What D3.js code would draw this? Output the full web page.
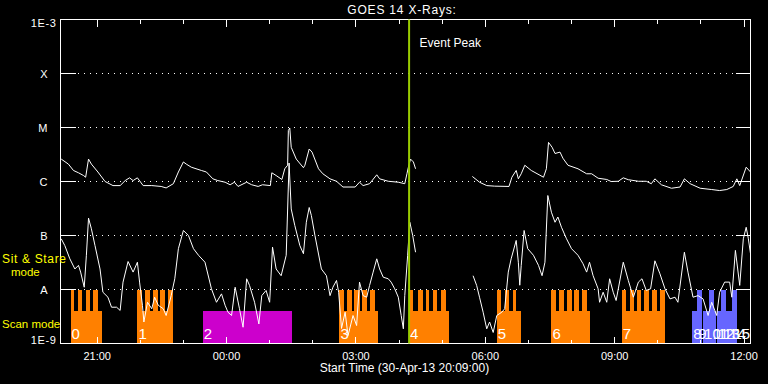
<!DOCTYPE html>
<html><head><meta charset="utf-8">
<script src="https://cdn.jsdelivr.net/npm/d3@7"></script>
<style>
html,body{margin:0;padding:0;background:#000;}
text{font-family:"Liberation Sans",Arial,sans-serif;}
</style>
</head><body>
<svg id="chart" width="768" height="384"></svg>
<script>
// ---------------- data ----------------
const titleText = "GOES 14 X-Rays:";
const xTitle = "Start Time (30-Apr-13 20:09:00)";
const rangeStart = "20:09";
const rangeEnd = "12:09";
const yTickValues = [1e-9, 1e-8, 1e-7, 1e-6, 1e-5, 1e-4, 1e-3];
const yTickLabels = ["1E-9", "A", "B", "C", "M", "X", "1E-3"];
const xTickLabels = ["21:00", "00:00", "03:00", "06:00", "09:00", "12:00"];
const eventPeakTime = "04:14";
const eventPeakLabel = "Event Peak";
const modeLabels = ["Sit & Stare", "mode", "Scan mode"];

// GOES long channel (1-8 A), W/m^2
const longFlux = [
["20:10",2.6e-6],["20:20",2.1e-6],["20:27",1.6e-6],["20:34",1.45e-6],["20:41",1.29e-6],["20:44",1.2e-6],
["20:48",2.6e-6],["20:52",2.1e-6],["21:01",1.5e-6],["21:11",1.0e-6],["21:22",8.4e-7],["21:32",8.4e-7],
["21:39",1.04e-6],["21:45",1.17e-6],["21:50",1.04e-6],["21:56",1.17e-6],["22:04",8.4e-7],["22:16",8.4e-7],
["22:29",8.1e-7],["22:36",7.6e-7],["22:46",9.1e-7],["22:53",1.5e-6],["23:00",2.3e-6],["23:04",2.1e-6],
["23:11",1.84e-6],["23:25",1.6e-6],["23:32",1.5e-6],["23:41",1.12e-6],["23:48",1.04e-6],["23:58",9.7e-7],
["00:05",8.7e-7],["00:11",9.7e-7],["00:16",8.1e-7],["00:28",9.7e-7],["00:35",8.7e-7],["00:44",8.1e-7],
["00:50",8.7e-7],["01:01",8.4e-7],["01:03",1.45e-6],["01:09",1.29e-6],["01:17",1.09e-6],["01:21",1.72e-6],
["01:25",2.0e-6],["01:26",8.8e-6],["01:28",9.8e-6],["01:30",4.3e-6],["01:37",2.6e-6],["01:47",1.8e-6],
["01:49",2.0e-6],["01:55",4.0e-6],["01:59",3.5e-6],["02:08",1.72e-6],["02:14",1.39e-6],["02:24",1.12e-6],
["02:33",1.01e-6],["02:42",7.9e-7],["02:59",7.9e-7],["03:05",9.7e-7],["03:10",8.4e-7],["03:19",9.1e-7],
["03:29",1.33e-6],["03:33",1.12e-6],["03:45",1.01e-6],["03:59",9.7e-7],["04:08",9.1e-7],["04:11",1.39e-6],
["04:13",1.84e-6],["04:16",2.6e-6],["04:20",2.3e-6],["04:23",1.72e-6],["04:24",null],
["05:42",1.24e-6],["05:52",9.7e-7],["06:02",8.4e-7],["06:13",8.2e-7],["06:33",8.1e-7],["06:37",1.2e-6],
["06:43",1.6e-6],["06:46",1.12e-6],["06:50",1.39e-6],["06:55",2.0e-6],["07:04",1.6e-6],["07:21",1.2e-6],
["07:25",1.72e-6],["07:28",5.3e-6],["07:33",4.3e-6],["07:37",3.3e-6],["07:44",3.5e-6],["07:48",2.7e-6],
["07:55",2.0e-6],["08:09",1.72e-6],["08:21",1.39e-6],["08:28",1.39e-6],["08:37",1.15e-6],["08:49",1.09e-6],
["08:55",1.0e-6],["09:05",1.01e-6],["09:12",1.17e-6],["09:19",1.08e-6],["09:33",1.01e-6],["09:44",1.01e-6],
["09:51",9.1e-7],["09:56",1.12e-6],["10:05",8.7e-7],["10:19",7.5e-7],["10:31",7.9e-7],["10:37",1.12e-6],
["10:45",9.1e-7],["10:59",7.5e-7],["11:15",7.1e-7],["11:26",6.8e-7],["11:36",7.1e-7],["11:45",8.1e-7],
["11:50",1.12e-6],["11:54",8.4e-7],["12:03",1.84e-6],["12:09",1.5e-6]
];

// GOES short channel (0.5-4 A), W/m^2
const shortFlux = [
["20:10",8.7e-8],["20:15",6.5e-8],["20:22",3.7e-8],["20:29",2.4e-8],["20:34",2.8e-8],["20:37",2.1e-8],
["20:42",1.1e-8],["20:45",4.3e-8],["20:48",2.1e-7],["20:52",1.33e-7],["20:57",6.5e-8],["21:04",2.4e-8],
["21:08",8.9e-9],["21:15",7.2e-9],["21:20",4.7e-9],["21:27",4.7e-9],["21:32",4.1e-9],["21:36",1.37e-8],
["21:43",3.3e-8],["21:50",2.1e-8],["21:56",3.2e-8],["21:59",1.37e-8],["22:03",5.1e-9],["22:05",2.5e-9],
["22:10",5.8e-9],["22:16",4.4e-9],["22:20",7.2e-9],["22:25",5.1e-9],["22:32",4.4e-9],["22:36",3.3e-9],
["22:43",7.7e-9],["22:48",1.58e-8],["22:53",5.7e-8],["23:00",1.24e-7],["23:07",1.0e-7],["23:14",5.7e-8],
["23:21",4.3e-8],["23:30",3.2e-8],["23:39",1.03e-8],["23:46",5.8e-9],["23:53",8.3e-9],["23:58",5.1e-9],
["00:02",3.8e-9],["00:07",3.3e-9],["00:12",1.1e-8],["00:18",4.4e-9],["00:23",2.0e-9],["00:28",1.58e-8],
["00:32",1.19e-8],["00:39",5.8e-9],["00:45",2.3e-9],["00:49",7.7e-9],["00:55",9.6e-9],["01:00",5.8e-9],
["01:04",6.1e-8],["01:09",2.4e-8],["01:16",1.8e-8],["01:23",4.3e-8],["01:27",2.2e-6],["01:30",3.1e-7],
["01:35",1.53e-7],["01:42",6.5e-8],["01:47",4.6e-8],["01:51",1.76e-7],["01:55",3.3e-7],["01:58",2.35e-7],
["02:03",1.0e-7],["02:12",2.4e-8],["02:19",1.8e-8],["02:24",7.7e-9],["02:28",1.1e-8],["02:33",1.47e-8],
["02:36",8.9e-9],["02:40",1.9e-9],["02:45",3.8e-9],["02:49",1.4e-9],["02:56",3.3e-9],["03:01",2.15e-9],
["03:05",1.37e-8],["03:10",7.7e-9],["03:15",7.2e-9],["03:19",1.19e-8],["03:24",2.1e-8],["03:29",3.7e-8],
["03:33",2.4e-8],["03:38",1.69e-8],["03:45",1.58e-8],["03:49",1.37e-8],["03:54",1.03e-8],["03:59",7.2e-9],
["04:03",3.3e-9],["04:06",1.87e-9],["04:08",7.7e-9],["04:12",4.3e-8],["04:15",1.76e-7],["04:19",1.0e-7],
["04:23",4.9e-8],["04:24",null],
["05:43",1.8e-8],["05:48",1.19e-8],["05:52",7.2e-9],["05:57",3.8e-9],["06:02",1.87e-9],["06:06",2.5e-9],
["06:11",1.6e-9],["06:16",3.3e-9],["06:23",3.8e-9],["06:27",4.4e-9],["06:32",2.1e-8],["06:36",3.7e-8],
["06:43",8.1e-8],["06:46",3.2e-8],["06:48",1.2e-8],["06:50",2.8e-8],["06:54",1.24e-7],["06:59",5.7e-8],
["07:07",4.3e-8],["07:14",2.8e-8],["07:19",1.8e-8],["07:23",3.2e-8],["07:27",5.5e-7],["07:32",2.7e-7],
["07:37",1.76e-7],["07:41",2.2e-7],["07:46",1.42e-7],["07:53",8.7e-8],["08:00",5.7e-8],["08:09",4.3e-8],
["08:16",3.0e-8],["08:21",2.1e-8],["08:25",3.2e-8],["08:30",1.8e-8],["08:37",1.03e-8],["08:39",5.8e-9],
["08:44",8.9e-9],["08:49",5.8e-9],["08:53",1.58e-8],["08:58",8.9e-9],["09:02",6.25e-9],["09:12",3.2e-8],
["09:19",1.47e-8],["09:26",7.2e-9],["09:33",1.37e-8],["09:38",1.58e-8],["09:44",9.6e-9],["09:50",1.03e-8],
["09:56",3.4e-8],["10:03",1.95e-8],["10:10",1.03e-8],["10:17",6.7e-9],["10:24",7.2e-9],["10:28",5.8e-9],
["10:37",4.9e-8],["10:42",2.1e-8],["10:49",7.2e-9],["10:56",7.7e-9],["11:03",6.7e-9],["11:10",3.3e-9],
["11:15",5.8e-9],["11:22",3.3e-9],["11:26",8.9e-9],["11:33",1.37e-8],["11:40",1.37e-8],["11:43",7.2e-9],
["11:48",5.3e-8],["11:54",1.19e-8],["11:59",8.7e-8],["12:03",1.42e-7],["12:06",8.7e-8],["12:09",4.6e-8]
];

// observation blocks (scan mode extents)
const blockIds   = ["0","1","2","3","4","5","6","7","8","9","10","11","12","13","14","15"];
const blockStart = ["20:23","21:56","23:27","02:37","04:14","06:16","07:32","09:10","10:48","10:55","11:03","11:15","11:22","11:30","11:38","11:44"];
const blockEnd   = ["21:07","22:46","01:31","03:31","05:10","06:49","08:26","10:10","10:55","11:02","11:14","11:21","11:29","11:37","11:43","11:50"];
const blockKind  = ["a","a","b","a","a","a","a","a","c","c","c","c","c","c","c","c"];

// sit & stare exposures: [start, end, block]
const stareRuns = [
["20:23","20:28","0"],["20:33","20:39","0"],["20:44","20:50","0"],["20:54","21:01","0"],
["21:56","22:03","1"],["22:07","22:13","1"],["22:17","22:24","1"],["22:28","22:35","1"],["22:39","22:45","1"],
["02:37","02:44","3"],["02:48","02:55","3"],["02:58","03:05","3"],["03:09","03:16","3"],["03:20","03:26","3"],
["04:14","04:20","4"],["04:26","04:33","4"],["04:37","04:42","4"],["04:47","04:53","4"],["04:58","05:05","4"],
["06:16","06:22","5"],["06:27","06:33","5"],["06:38","06:43","5"],
["07:32","07:39","6"],["07:43","07:49","6"],["07:53","08:00","6"],["08:04","08:11","6"],["08:15","08:22","6"],
["09:10","09:16","7"],["09:21","09:27","7"],["09:31","09:37","7"],["09:41","09:48","7"],["09:52","09:59","7"],["10:03","10:10","7"],
["10:55","11:02","9"],["11:11","11:18","11"],["11:28","11:35","13"],["11:43","11:50","15"]
];

// ---------------- drawing ----------------
const kindColor = {a:"#ff8000", b:"#cc00cc", c:"#6666ff"};
const W = 768, H = 384;
const L = 60.5, R = 750.5, T = 19.5, B = 343.5;

function parseClock(s){
  const [h,m] = s.split(":").map(Number);
  const day = h >= 20 ? 30 : 31; // 30-Apr or 1-May
  return new Date(Date.UTC(2013, 3, day, h, m));
}

const svg = d3.select("#chart");
svg.append("rect").attr("width",W).attr("height",H).attr("fill","#000");

const x = d3.scaleUtc().domain([parseClock(rangeStart), parseClock(rangeEnd)]).range([L, R]);
const y = d3.scaleLog().domain([1e-9, 1e-3]).range([B, T]);

const stareTop = 1e-8, scanTop = 4e-9, floorV = 1e-9;

// dotted grid
const gridVals = yTickValues.slice(1, -1);
svg.append("g").selectAll("line").data(gridVals).join("line")
  .attr("x1", L + 17).attr("x2", R - 16)
  .attr("y1", d => y(d)).attr("y2", d => y(d))
  .attr("stroke", "#fff").attr("stroke-width", 1)
  .attr("stroke-dasharray", "1 5")
  .attr("shape-rendering", "crispEdges");

// blocks
const blocks = blockIds.map((id,i) => ({id, s: parseClock(blockStart[i]), e: parseClock(blockEnd[i]), kind: blockKind[i]}));
const kindOf = Object.fromEntries(blocks.map(b => [b.id, b.kind]));
const gB = svg.append("g").attr("shape-rendering", "crispEdges");
gB.selectAll("rect.scan").data(blocks).join("rect").attr("class","scan")
  .attr("x", d => x(d.s)).attr("width", d => Math.max(0, x(d.e) - x(d.s)))
  .attr("y", y(scanTop)).attr("height", y(floorV) - y(scanTop))
  .attr("fill", d => kindColor[d.kind]);
gB.selectAll("rect.stare").data(stareRuns).join("rect").attr("class","stare")
  .attr("x", d => x(parseClock(d[0]))).attr("width", d => x(parseClock(d[1])) - x(parseClock(d[0])))
  .attr("y", y(stareTop)).attr("height", y(floorV) - y(stareTop))
  .attr("fill", d => kindColor[kindOf[d[2]]]);

// block labels
svg.append("g").selectAll("text").data(blocks).join("text")
  .attr("x", d => x(d.s) + 1).attr("y", y(floorV) - 5)
  .attr("fill", "#fff").attr("font-size", 15)
  .text(d => d.id);

// curves
const line = d3.line()
  .defined(d => d[1] != null)
  .x(d => x(parseClock(d[0])))
  .y(d => y(d[1]));
[longFlux, shortFlux].forEach(series => {
  svg.append("path").datum(series).attr("d", line)
    .attr("fill", "none").attr("stroke", "#fff").attr("stroke-width", 1)
    .attr("stroke-linejoin", "miter");
});

// frame
const gA = svg.append("g").attr("shape-rendering", "crispEdges").attr("stroke", "#fff").attr("stroke-width", 1);
gA.append("rect").attr("x", L).attr("y", T).attr("width", R - L).attr("height", B - T).attr("fill", "none");

// y ticks (solid, both sides)
gridVals.forEach(v => {
  gA.append("line").attr("x1", L).attr("x2", L + 15).attr("y1", y(v)).attr("y2", y(v));
  gA.append("line").attr("x1", R - 15).attr("x2", R).attr("y1", y(v)).attr("y2", y(v));
});

// x ticks hourly, major every 3h
const majorSet = new Set(xTickLabels.map(s => +parseClock(s)));
const hours = d3.utcHour.range(parseClock(rangeStart), parseClock(rangeEnd));
hours.forEach(h => {
  const px = Math.round(x(h) - 0.5) + 0.5;
  const len = majorSet.has(+h) ? 7 : 4;
  gA.append("line").attr("x1", px).attr("x2", px).attr("y1", T).attr("y2", T + len);
  gA.append("line").attr("x1", px).attr("x2", px).attr("y1", B).attr("y2", B - len);
});

// event peak
const ep = x(parseClock(eventPeakTime));
svg.append("line").attr("x1", ep).attr("x2", ep).attr("y1", T).attr("y2", B)
  .attr("stroke", "#99cc00").attr("stroke-width", 2);
svg.append("text").attr("x", ep + 10.5).attr("y", 47).attr("fill", "#fff")
  .attr("font-size", 12).text(eventPeakLabel);

// x tick labels
svg.append("g").selectAll("text").data(xTickLabels).join("text")
  .attr("x", d => x(parseClock(d))).attr("y", 359.5)
  .attr("text-anchor", "middle").attr("fill", "#fff").attr("font-size", 11)
  .text(d => d);

// y tick labels
svg.append("g").selectAll("text").data(yTickValues).join("text")
  .attr("x", (d,i) => (i === 0 || i === yTickValues.length - 1) ? 56.5 : 47.5)
  .attr("y", (d,i) => i === 0 ? y(d) : (i === yTickValues.length - 1 ? y(d) + 7.5 : y(d) + 4))
  .attr("text-anchor", "end").attr("fill", "#fff").attr("font-size", 11)
  .attr("letter-spacing", (d,i) => (i === 0 || i === yTickValues.length - 1) ? 0.6 : 0)
  .text((d,i) => yTickLabels[i]);

// title and x title
svg.append("text").attr("x", 402).attr("y", 13.5).attr("text-anchor", "middle")
  .attr("fill", "#fff").attr("font-size", 12).attr("letter-spacing", 0.8).text(titleText);
svg.append("text").attr("x", 404.5).attr("y", 372).attr("text-anchor", "middle")
  .attr("fill", "#fff").attr("font-size", 12).text(xTitle);

// mode labels
svg.append("text").attr("x", 2).attr("y", 263).attr("fill", "#ffff00").attr("font-size", 12)
  .attr("textLength", 64).text(modeLabels[0]);
svg.append("text").attr("x", 11).attr("y", 275.5).attr("fill", "#ffff00").attr("font-size", 11.5)
  .text(modeLabels[1]);
svg.append("text").attr("x", 2).attr("y", 327.5).attr("fill", "#ffff00").attr("font-size", 11.5)
  .text(modeLabels[2]);
</script>
</body></html>
